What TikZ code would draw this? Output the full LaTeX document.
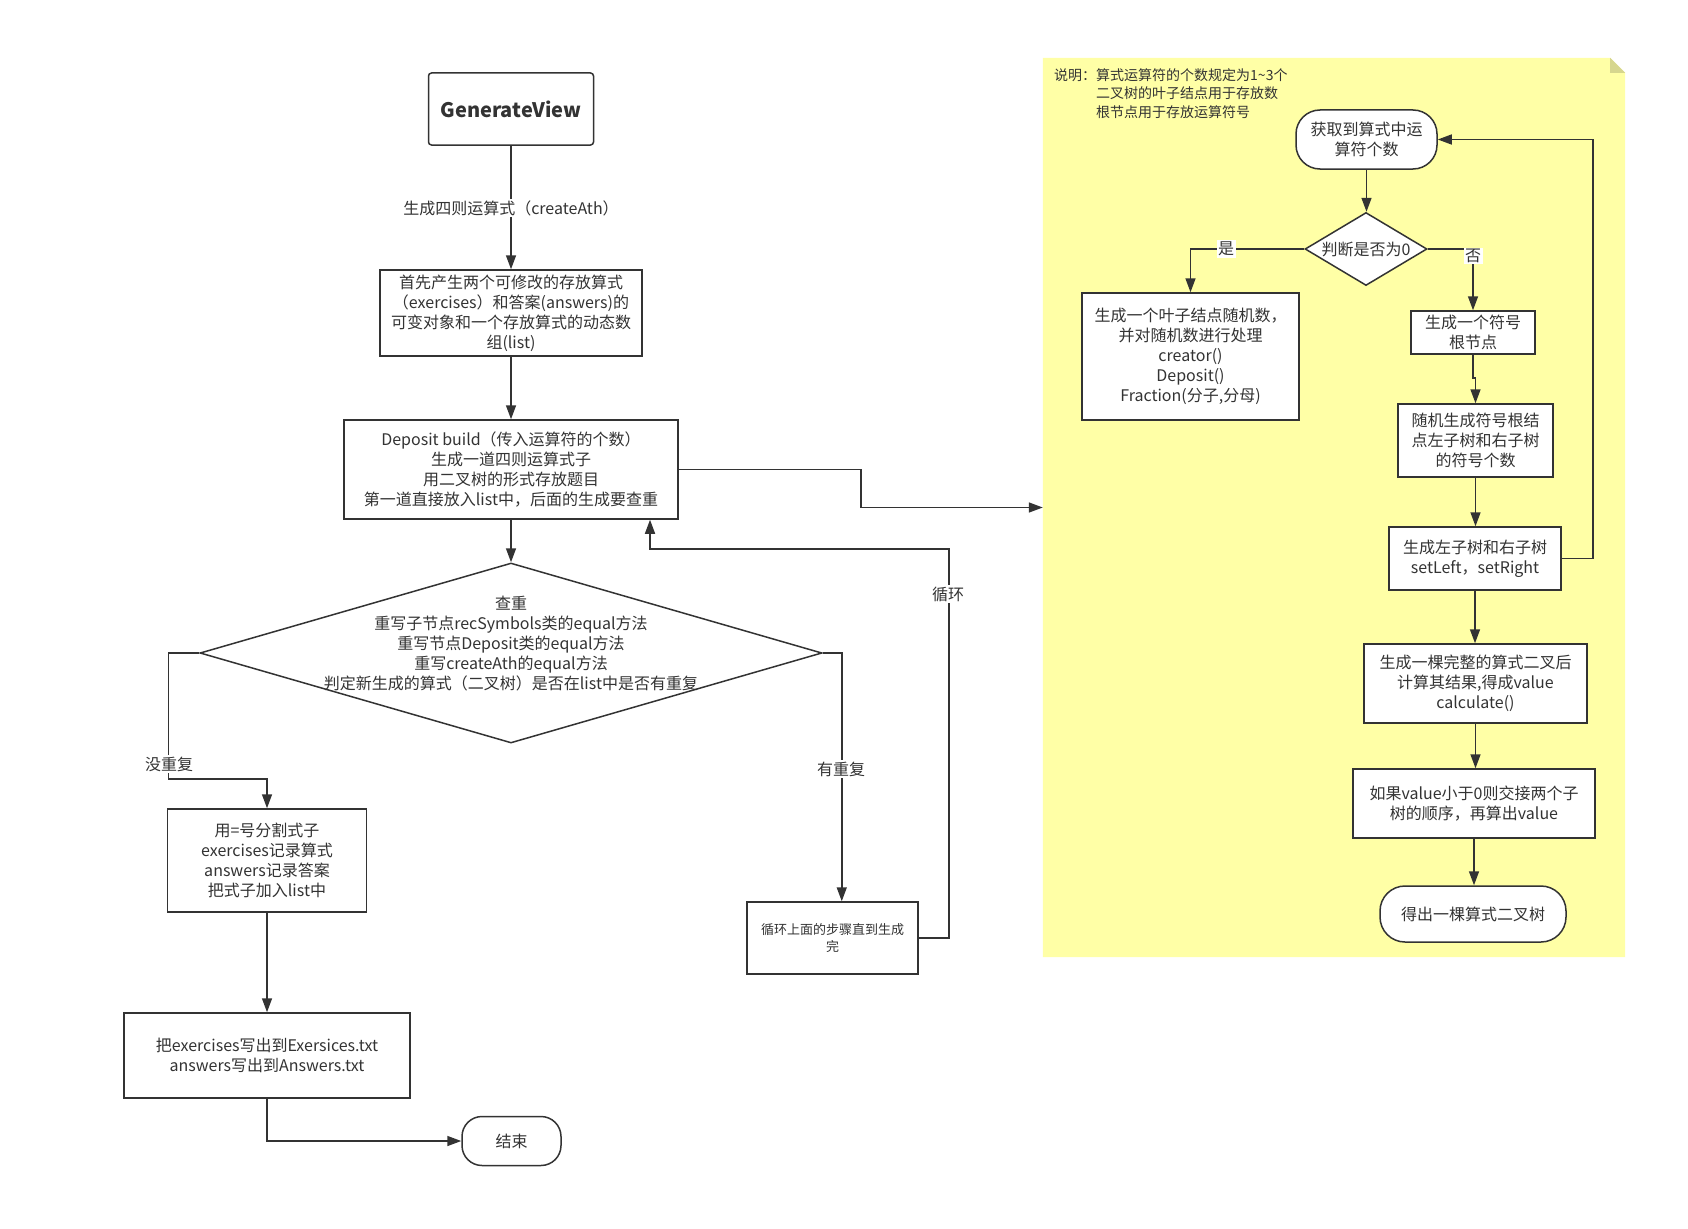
\documentclass[tikz,border=0pt]{standalone}
\usepackage{fontspec}
\setmainfont{Noto Sans CJK SC}
\usetikzlibrary{arrows.meta,shapes.geometric,calc}
\definecolor{linec}{HTML}{333333}
\definecolor{notebg}{HTML}{FFFFA6}
\definecolor{notefold}{HTML}{D6D68E}
\newcommand\fmain{\fontsize{16}{20}\selectfont}
\newcommand\fnote{\fontsize{14}{18.5}\selectfont}
\newcommand\fsmall{\fontsize{13}{17.5}\selectfont}
\newcommand\fgv{\fontsize{20}{24}\selectfont\bfseries}
\begin{document}
\begin{tikzpicture}[x=1pt,y=-1pt,
  every node/.style={text=linec},
  sz/.style 2 args={minimum width=#1pt,minimum height=#2pt},
  box/.style={draw=linec,line width=1.5pt,fill=white,align=center,inner sep=0pt,font=\fmain},
  termbox/.style={box,rounded corners=#1pt},
  dia/.style={draw=linec,line width=1.5pt,fill=white,diamond,inner sep=0pt},
  arr/.style={draw=linec,line width=1.5pt,-{Triangle[length=14pt,width=10pt]}},
  lbl/.style={fill=white,inner sep=1.5pt,font=\fmain},
]
\useasboundingbox (0,0) rectangle (1688,1228);

% ---------- note background ----------
\node[sz={582}{899},inner sep=0pt] (note) at (1334,507.5) {};
\fill[notebg] (note.south west) -- (note.north west) -- ([xshift=-15pt]note.north east)
  -- ([yshift=-15pt]note.north east) -- (note.south east) -- cycle;
\fill[notefold] ([xshift=-15pt]note.north east) -- ([xshift=-15pt,yshift=-15pt]note.north east)
  -- ([yshift=-15pt]note.north east) -- cycle;
\node[font=\fnote,align=left,anchor=west,inner sep=0pt] (notetext) at (1054,93.5)
  {说明：算式运算符的个数规定为1\textasciitilde3个\\
   \phantom{说明：}二叉树的叶子结点用于存放数\\
   \phantom{说明：}根节点用于存放运算符号};

% ---------- left flow ----------
\node[box,sz={165}{72},rounded corners=3pt,font=\fgv] (gv) at (511,109) {GenerateView};
\node[box,sz={262}{86}] (b2) at (511,313)
  {首先产生两个可修改的存放算式\\（exercises）和答案(answers)的\\可变对象和一个存放算式的动态数\\组(list)};
\node[box,sz={334}{99}] (dep) at (511,469.5)
  {Deposit build（传入运算符的个数）\\生成一道四则运算式子\\用二叉树的形式存放题目\\第一道直接放入list中，后面的生成要查重};
\node[dia,sz={622}{180}] (chk) at (511,653) {};
\node[align=center,font=\fmain,inner sep=0pt] (chktext) at (511,644)
  {查重\\重写子节点recSymbols类的equal方法\\重写节点Deposit类的equal方法\\重写createAth的equal方法\\判定新生成的算式（二叉树）是否在list中是否有重复};
\node[box,sz={199}{103}] (b3) at (267,860.5)
  {用=号分割式子\\exercises记录算式\\answers记录答案\\把式子加入list中};
\node[box,sz={286}{85}] (b4) at (267,1055.5)
  {把exercises写出到Exersices.txt\\answers写出到Answers.txt};
\node[termbox=20,sz={99}{49}] (end) at (511.5,1141) {结束};
\node[box,sz={171}{72},font=\fsmall] (loopb) at (832.5,938) {循环上面的步骤直到生成\\完};

\draw[arr] (gv.south) -- (gv.south |- b2.north);
\draw[arr] (b2.south) -- (b2.south |- dep.north);
\draw[arr] (dep.south) -- (dep.south |- chk.north);
\draw[arr] (chk.west) -- ++(-31,0) -- ++(0,126) -| (b3.north);
\draw[arr] (b3.south) -- (b3.south |- b4.north);
\draw[arr] (b4.south) |- (end.west);
\draw[arr] (chk.east) -- ++(19,0) coordinate (rb) -- (rb |- loopb.north);
\draw[arr] (loopb.east) -- ++(30,0) |- ([xshift=139pt,yshift=-29pt]dep.south) -- ([xshift=139pt]dep.south);
\draw[arr] (dep.east) -| ($(dep.east)!.5!(note.west)$) |- (note.west);

\node[lbl] (l1) at (511,208) {生成四则运算式（createAth）};
\node[lbl] (l2) at (169,764) {没重复};
\node[lbl] (l3) at (841,769) {有重复};
\node[lbl] (l4) at (948,594) {循环};

% ---------- right flow ----------
\node[termbox=24,sz={141}{59}] (t1) at (1366.5,139.5) {获取到算式中运\\算符个数};
\node[dia,sz={122}{73}] (j) at (1366,249) {};
\node[font=\fmain,inner sep=0pt] (jtext) at (1366,249) {判断是否为0};
\node[box,sz={217}{127}] (leaf) at (1190.5,356.5)
  {生成一个叶子结点随机数，\\并对随机数进行处理\\creator()\\Deposit()\\Fraction(分子,分母)};
\node[box,sz={124}{43}] (sym) at (1473,332.5) {生成一个符号\\根节点};
\node[box,sz={155}{73}] (rnd) at (1475.5,440.5) {随机生成符号根结\\点左子树和右子树\\的符号个数};
\node[box,sz={172}{63}] (lr) at (1475,558.5) {生成左子树和右子树\\setLeft，setRight};
\node[box,sz={223}{79}] (full) at (1475.5,683.5) {生成一棵完整的算式二叉后\\计算其结果,得成value\\calculate()};
\node[box,sz={242}{69}] (ifv) at (1474,803.5) {如果value小于0则交接两个子\\树的顺序，再算出value};
\node[termbox=25,sz={186}{56}] (res) at (1473,914) {得出一棵算式二叉树};

\draw[arr] (t1.south) -- (t1.south |- j.north);
\draw[arr] (j.west) -| (leaf.north);
\draw[arr] (j.east) -| (sym.north);
\draw[arr] (sym.south) -- ++(0,23) -| (rnd.north);
\draw[arr] (rnd.south) -- (rnd.south |- lr.north);
\draw[arr] (lr.east) -- ++(31,0) |- (t1.east);
\draw[arr] (lr.south) -- (lr.south |- full.north);
\draw[arr] (full.south) -- (full.south |- ifv.north);
\draw[arr] (ifv.south) -- (ifv.south |- res.north);

\node[lbl] (l5) at (1226,249) {是};
\node[lbl] (l6) at (1473,256) {否};
\end{tikzpicture}
\end{document}
